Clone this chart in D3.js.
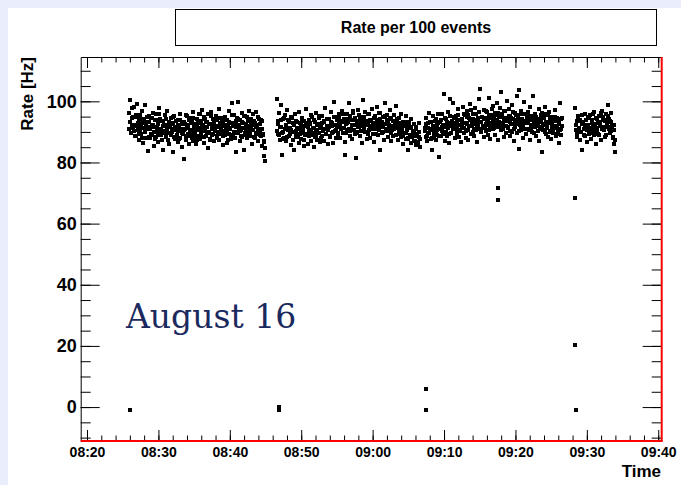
<!DOCTYPE html>
<html>
<head>
<meta charset="utf-8">
<script src="https://cdn.jsdelivr.net/npm/d3@7"></script>
<style>
body { margin: 0; background: #eaedfb; }
svg text { font-family: "Liberation Sans", Arial, sans-serif; }
</style>
</head>
<body>
<div id="chart"></div>
<script>
// run segments (start / end of data taking), points are spread evenly in time inside a run
var segStart = ["08:25:53", "08:46:36", "09:07:20", "09:28:21"];
var segEnd = ["08:44:56", "09:06:38", "09:26:32", "09:33:57"];

var seg1Rates = [96.2, 100.4, 93.1, 89.5, 97.8, 94.6, 91.2, 98.3, 95.0, 92.4,
  88.7, 94.9, 99.1, 90.6, 93.8, 87.2, 95.6, 91.9, 89.3, 96.7,
  92.8, 86.4, 94.1, 90.2, 98.9, 88.1, 93.3, 91.5, 83.6, 95.2,
  90.8, 87.9, 94.4, 92.1, 89.0, 96.3, 85.5, 91.7, 93.9, 88.4,
  95.8, 90.1, 92.6, 86.8, 97.9, 89.6, 94.2, 91.0, 87.5, 93.5,
  84.1, 92.3, 90.4, 95.4, 88.2, 91.4, 96.9, 89.8, 93.0, 86.1,
  91.8, 94.7, 88.9, 90.0, 83.3, 92.9, 95.1, 87.6, 90.7, 93.6,
  89.1, 86.7, 94.0, 91.3, 88.0, 96.0, 90.3, 85.2, 92.5, 89.4,
  81.3, 93.2, 90.9, 87.3, 95.5, 91.6, 88.6, 92.2, 86.0, 94.5,
  90.5, 89.2, 93.4, 87.0, 96.5, 91.1, 88.3, 92.7, 85.9, 94.3,
  91.9, 88.8, 95.7, 90.6, 87.8, 93.7, 89.9, 97.2, 92.0, 86.5,
  94.8, 90.2, 88.5, 93.1, 91.5, 84.7, 95.9, 89.7, 92.6, 87.4,
  96.4, 91.2, 89.0, 94.1, 86.9, 92.4, 90.8, 95.3, 88.1, 93.9,
  90.0, 87.2, 97.5, 91.7, 89.5, 94.6, 92.8, 85.8, 93.4, 90.4,
  88.9, 95.0, 91.4, 86.3, 94.0, 92.1, 89.3, 96.8, 90.9, 87.7,
  99.4, 93.0, 88.2, 91.8, 95.6, 89.6, 92.5, 83.4, 94.4, 90.1,
  99.8, 91.0, 87.1, 93.8, 90.7, 96.1, 88.4, 92.9, 84.0, 95.2,
  91.3, 89.1, 94.9, 87.9, 92.0, 97.0, 90.3, 88.7, 93.3, 91.6,
  86.2, 95.8, 90.5, 93.5, 88.0, 92.3, 96.6, 89.4, 91.1, 87.0,
  94.2, 90.0, 92.7, 88.8, 85.4, 93.6, 89.2, 86.6, 82.1, 80.6];
var seg1RatesB = [91.0, 93.4, 89.6, 92.2, 94.8, 90.3, 88.7, 95.5, 91.8, 93.0,
  89.2, 92.6, 90.5, 94.1, 87.9, 91.3, 93.7, 89.9, 92.0, 95.0,
  90.8, 88.4, 93.2, 91.6, 89.4, 94.5, 92.4, 90.1, 87.6, 93.9,
  91.2, 89.0, 92.8, 95.7, 90.6, 88.9, 93.5, 91.9, 89.7, 92.3,
  94.3, 90.2, 87.3, 91.5, 93.1, 89.5, 92.7, 90.9, 94.9, 88.2,
  91.7, 93.6, 89.1, 92.1, 90.4, 87.8, 94.0, 91.1, 89.8, 93.3,
  90.7, 92.5, 88.6, 95.2, 91.4, 89.3, 93.8, 90.0, 92.9, 88.0,
  94.6, 91.8, 89.6, 92.4, 90.5, 87.5, 93.0, 91.2, 95.9, 89.0,
  92.2, 90.8, 88.3, 94.2, 91.6, 89.9, 93.4, 90.1, 92.6, 87.7,
  95.3, 91.0, 89.4, 93.7, 90.3, 92.0, 88.8, 94.4, 91.5, 89.2,
  92.8, 90.6, 93.9, 88.5, 91.9, 94.7, 89.7, 92.3, 90.2, 87.4,
  93.2, 91.3, 89.1, 95.6, 92.5, 90.0, 88.1, 93.6, 91.7, 89.5,
  94.1, 92.1, 90.4, 88.7, 93.1, 91.4, 95.1, 89.8, 92.7, 90.9,
  87.9, 93.5, 91.1, 89.3, 94.3, 92.9, 90.7, 88.4, 93.0, 91.6,
  89.6, 92.4, 94.8, 90.3, 88.9, 93.8, 91.0, 89.0, 86.9, 84.8];

var seg2Rates = [100.9, 93.5, 89.2, 96.1, 87.4, 98.7, 91.6, 82.4, 94.3, 90.0,
  88.1, 95.4, 92.2, 86.9, 97.3, 90.7, 93.8, 88.6, 91.4, 85.7,
  94.9, 89.9, 92.8, 87.5, 84.0, 95.9, 90.3, 88.3, 93.2, 91.0,
  86.4, 96.6, 89.4, 92.4, 87.8, 94.5, 90.9, 85.3, 93.6, 88.9,
  91.8, 97.4, 89.0, 86.2, 94.0, 90.5, 92.9, 87.1, 95.5, 89.7,
  91.2, 85.0, 93.9, 88.4, 96.2, 90.1, 87.3, 92.6, 89.5, 94.7,
  86.7, 91.5, 95.1, 88.8, 90.4, 93.4, 87.0, 97.8, 89.3, 92.0,
  90.8, 85.9, 94.2, 91.7, 88.2, 96.4, 89.8, 93.0, 86.5, 92.3,
  99.8, 90.2, 87.9, 94.8, 91.9, 89.1, 95.7, 92.7, 88.0, 93.7,
  91.3, 97.0, 89.6, 94.1, 86.8, 82.4, 92.5, 96.0, 90.6, 93.3,
  99.5, 88.7, 95.2, 91.1, 93.9, 87.6, 96.8, 92.1, 89.4, 94.6,
  81.6, 93.1, 90.0, 97.1, 91.6, 88.5, 95.0, 92.8, 86.3, 94.4,
  100.3, 91.4, 89.9, 96.5, 93.5, 87.7, 92.2, 95.8, 90.5, 88.1,
  94.0, 91.8, 97.6, 89.2, 93.0, 86.6, 95.3, 92.4, 90.9, 98.2,
  88.9, 93.8, 91.0, 96.3, 84.0, 92.9, 89.7, 94.9, 91.5, 87.4,
  99.5, 92.6, 90.2, 95.6, 88.3, 93.2, 91.3, 97.3, 86.9, 94.2,
  90.7, 92.0, 88.6, 95.4, 91.9, 89.0, 98.4, 93.6, 87.2, 92.7,
  94.5, 90.1, 88.2, 96.0, 91.2, 86.1, 93.4, 89.5, 92.3, 87.8,
  95.1, 90.6, 88.0, 84.1, 93.1, 91.6, 86.4, 94.3, 89.1, 90.3,
  87.0, 92.5, 88.8, 85.6, 91.0, 89.4, 86.8, 93.0, 88.4, 85.2];
var seg2RatesB = [90.2, 92.7, 88.9, 91.5, 93.9, 89.6, 87.8, 94.4, 90.8, 92.1,
  88.4, 91.1, 93.3, 89.2, 90.6, 94.7, 87.5, 92.4, 90.0, 89.1,
  93.6, 91.3, 88.2, 90.9, 92.8, 89.8, 94.1, 90.4, 87.2, 91.8,
  93.0, 89.4, 91.6, 88.6, 92.5, 90.1, 94.9, 89.0, 91.2, 93.4,
  88.8, 90.7, 92.2, 89.7, 95.2, 91.4, 88.0, 92.9, 90.3, 93.7,
  91.0, 89.3, 94.2, 90.6, 92.0, 88.5, 93.1, 91.9, 89.9, 95.0,
  92.3, 90.5, 93.8, 91.7, 89.5, 94.6, 92.6, 90.8, 93.2, 95.7,
  91.3, 93.5, 89.8, 92.9, 94.3, 91.1, 90.2, 93.9, 92.1, 96.1,
  90.7, 94.0, 92.4, 89.6, 93.6, 91.5, 95.4, 92.8, 90.4, 93.3,
  91.9, 94.8, 90.0, 92.2, 93.0, 89.4, 95.9, 91.7, 93.7, 90.9,
  92.5, 94.5, 91.2, 89.2, 93.4, 92.0, 96.3, 90.6, 94.1, 91.6,
  93.1, 89.9, 92.7, 95.1, 91.0, 93.8, 90.3, 92.3, 94.4, 89.7,
  91.8, 93.5, 90.8, 92.6, 88.9, 94.2, 91.4, 90.1, 93.0, 89.3,
  92.1, 90.5, 88.6, 91.9, 93.2, 89.8, 90.9, 87.7, 92.4, 89.0,
  91.2, 88.3, 90.4, 89.5, 87.1, 91.6, 88.7, 86.5, 89.9, 87.6];

var seg3Rates = [91.4, 88.2, 94.6, 86.9, 92.8, 89.7, 96.3, 90.5, 87.6, 93.1,
  84.0, 91.9, 95.2, 88.8, 90.2, 93.7, 87.3, 92.4, 89.1, 96.0,
  90.8, 81.8, 93.4, 88.5, 91.6, 95.7, 89.4, 102.3, 92.1, 87.0,
  94.3, 90.0, 88.7, 96.6, 91.2, 86.4, 100.8, 93.0, 89.8, 92.6,
  99.5, 90.9, 94.8, 87.9, 92.3, 95.3, 89.2, 91.7, 97.4, 88.3,
  93.8, 90.4, 86.6, 94.1, 92.0, 98.1, 89.6, 91.3, 95.6, 88.0,
  92.9, 96.8, 90.7, 87.4, 94.4, 91.8, 99.0, 89.3, 93.5, 90.1,
  95.9, 88.6, 92.5, 97.7, 90.6, 86.8, 94.0, 92.2, 100.6, 91.0,
  104.1, 93.3, 89.9, 95.0, 91.5, 97.2, 88.4, 94.7, 92.7, 90.3,
  96.5, 89.0, 93.9, 101.2, 91.1, 87.7, 95.4, 92.4, 98.6, 90.8,
  94.2, 88.9, 96.1, 92.0, 99.3, 91.6, 87.2, 94.9, 93.2, 97.9,
  103.0, 90.5, 95.8, 92.8, 88.2, 96.9, 91.9, 94.5, 89.5, 100.1,
  93.6, 91.3, 97.5, 88.7, 95.1, 92.6, 90.0, 98.8, 94.1, 86.9,
  96.3, 91.7, 93.0, 101.9, 89.8, 95.5, 84.4, 103.8, 92.3, 90.6,
  97.0, 94.3, 88.1, 92.9, 99.7, 91.0, 95.7, 89.4, 93.8, 96.6,
  90.9, 94.6, 87.5, 98.3, 92.1, 95.2, 89.9, 101.6, 93.4, 91.5,
  96.0, 88.8, 94.0, 92.5, 90.2, 97.6, 87.1, 93.7, 95.4, 91.2,
  83.5, 94.8, 90.7, 92.7, 98.0, 89.2, 95.9, 91.8, 93.1, 88.4,
  96.4, 90.4, 94.2, 87.8, 92.2, 95.0, 89.7, 93.5, 91.4, 97.3,
  88.6, 92.0, 94.7, 90.1, 86.5, 93.3, 99.4, 91.1, 89.0, 94.4];
var seg3RatesB = [90.4, 92.6, 88.8, 91.3, 89.5, 93.4, 90.9, 87.9, 92.0, 89.9,
  91.7, 94.1, 89.2, 90.6, 92.9, 88.5, 91.1, 93.8, 90.2, 92.3,
  89.7, 94.6, 91.5, 90.0, 93.1, 92.4, 89.4, 95.2, 91.9, 93.6,
  90.8, 92.8, 94.4, 91.0, 93.3, 89.6, 95.6, 92.1, 90.5, 94.0,
  92.7, 91.4, 96.0, 93.0, 90.3, 94.8, 92.5, 95.4, 91.8, 93.9,
  97.1, 92.2, 94.3, 90.9, 93.5, 95.8, 91.6, 94.6, 92.9, 96.4,
  93.2, 90.7, 95.0, 92.0, 94.2, 91.3, 96.7, 93.7, 92.4, 95.3,
  90.6, 94.5, 92.8, 97.5, 93.4, 91.2, 95.6, 92.6, 94.0, 96.2,
  91.9, 93.1, 95.9, 92.3, 94.9, 90.8, 93.6, 96.8, 92.0, 94.4,
  91.5, 95.1, 93.3, 90.4, 94.7, 92.7, 96.5, 91.1, 93.8, 95.5,
  92.5, 94.1, 90.2, 93.0, 95.7, 91.7, 94.3, 92.1, 96.0, 93.5,
  91.0, 94.8, 92.9, 90.6, 95.2, 93.9, 91.4, 94.5, 92.2, 89.8,
  93.7, 95.0, 91.8, 92.6, 94.2, 90.9, 93.2, 96.3, 91.6, 92.4,
  94.6, 90.1, 93.4, 91.2, 95.4, 92.8, 89.9, 94.0, 91.5, 93.1,
  90.5, 92.0, 94.9, 91.3, 89.4, 93.6, 92.5, 90.7, 94.1, 91.9];

var seg4Rates = [97.8, 90.5, 93.6, 88.2, 95.1, 91.4, 87.3, 94.0, 89.9, 92.7,
  84.0, 93.2, 90.8, 96.0, 88.6, 92.1, 86.7, 94.5, 91.0, 89.4,
  95.6, 90.2, 87.8, 93.9, 92.4, 88.9, 96.5, 91.7, 86.1, 94.2,
  90.0, 93.0, 95.3, 89.1, 92.6, 87.5, 96.8, 91.2, 94.8, 90.6,
  93.5, 88.4, 95.9, 92.0, 98.9, 91.6, 94.3, 89.7, 93.1, 96.2,
  90.9, 88.3, 92.4, 86.0, 83.4];
var seg4RatesB = [92.4, 89.6, 94.2, 91.0, 93.5, 90.1, 95.4, 92.8, 88.9, 91.7,
  93.9, 90.6, 92.1, 94.8, 89.8, 91.4, 93.0, 95.9, 90.3, 92.6,
  94.5, 91.2, 89.3, 93.3, 92.0, 96.1, 90.8, 93.8, 91.6, 94.0,
  89.0, 92.9, 95.2, 91.1, 93.6, 90.4, 92.2, 88.1, 90.7, 87.4];

// odd points at run starts
var outlierTimes = ["08:26:01", "08:46:53", "08:46:55", "09:07:29", "09:07:31",
  "09:17:34", "09:17:36", "09:28:21", "09:28:23", "09:28:25"];
var outlierRates = [-1.1, 0.0, -0.9, 5.8, -1.0, 71.5, 67.6, 68.3, 20.2, -1.0];

var svgWidth = 681;
var svgHeight = 485;
var margin = { top: 57, right: 19.3, bottom: 44, left: 80.7 };
var chartWidth = svgWidth - margin.left - margin.right;
var chartHeight = svgHeight - margin.top - margin.bottom;

function parseT(s) {
  var p = s.split(":");
  return new Date(2008, 7, 16, +p[0], +p[1], +p[2]);
}

// build the point table, second list sits between the first one's events
var points = [];
[[seg1Rates, seg1RatesB], [seg2Rates, seg2RatesB], [seg3Rates, seg3RatesB], [seg4Rates, seg4RatesB]]
  .forEach(function(pair, k) {
    var t0 = parseT(segStart[k]).getTime();
    var t1 = parseT(segEnd[k]).getTime();
    pair[0].forEach(function(r, i) {
      points.push({ time: new Date(t0 + (t1 - t0) * i / (pair[0].length - 1)), rate: r });
    });
    pair[1].forEach(function(r, i) {
      points.push({ time: new Date(t0 + (t1 - t0) * (i + 0.5) / pair[1].length), rate: r });
    });
  });
outlierTimes.forEach(function(s, i) {
  points.push({ time: parseT(s), rate: outlierRates[i] });
});

var svg = d3.select("#chart")
  .append("svg")
  .attr("width", svgWidth)
  .attr("height", svgHeight);

// white canvas on the slide background
svg.append("rect")
  .attr("x", 8).attr("y", 8)
  .attr("width", svgWidth).attr("height", svgHeight)
  .attr("fill", "#fff");

var chartGroup = svg.append("g")
  .attr("transform", `translate(${margin.left}, ${margin.top})`);

var xScale = d3.scaleTime()
  .domain([parseT("08:19:07"), parseT("09:40:29")])
  .range([0, chartWidth]);
var yScale = d3.scaleLinear()
  .domain([-11.1, 114.5])
  .range([chartHeight, 0]);

// points
chartGroup.selectAll("rect.pt")
  .data(points)
  .enter()
  .append("rect")
  .attr("class", "pt")
  .attr("x", d => xScale(d.time) - 2)
  .attr("y", d => yScale(d.rate) - 2)
  .attr("width", 4)
  .attr("height", 4)
  .attr("shape-rendering", "crispEdges")
  .attr("fill", "#000");

function noDomain(g) { g.select(".domain").remove(); }

var majorY = [0, 20, 40, 60, 80, 100];
var minorY = d3.range(-10, 115, 5);

// left axis
chartGroup.append("g")
  .call(d3.axisLeft(yScale).tickValues(minorY).tickSize(-10).tickFormat(""))
  .call(noDomain);
var leftAxis = chartGroup.append("g")
  .call(d3.axisLeft(yScale).tickValues(majorY).tickSize(-19).tickPadding(4).tickSizeOuter(0));
leftAxis.select(".domain").attr("stroke", "#000");
leftAxis.selectAll("text")
  .attr("font-size", "18px")
  .attr("font-weight", "bold")
  .attr("fill", "#000");

// right axis
chartGroup.append("g")
  .attr("transform", `translate(${chartWidth}, 0)`)
  .call(d3.axisRight(yScale).tickValues(minorY).tickSize(-10).tickFormat(""))
  .call(noDomain);
chartGroup.append("g")
  .attr("transform", `translate(${chartWidth}, 0)`)
  .call(d3.axisRight(yScale).tickValues(majorY).tickSize(-19).tickFormat(""))
  .call(noDomain);

// top axis
chartGroup.append("g")
  .call(d3.axisTop(xScale).ticks(d3.timeMinute.every(2)).tickSize(-5.5).tickFormat(""))
  .call(noDomain);
chartGroup.append("g")
  .call(d3.axisTop(xScale).ticks(d3.timeMinute.every(10)).tickSize(-11).tickFormat("").tickSizeOuter(0))
  .select(".domain").attr("stroke", "#000");

// bottom axis
chartGroup.append("g")
  .attr("transform", `translate(0, ${chartHeight})`)
  .call(d3.axisBottom(xScale).ticks(d3.timeMinute.every(2)).tickSize(-5.5).tickFormat(""))
  .call(noDomain);
var bottomAxis = chartGroup.append("g")
  .attr("transform", `translate(0, ${chartHeight})`)
  .call(d3.axisBottom(xScale).ticks(d3.timeMinute.every(10)).tickSize(-11).tickPadding(6)
    .tickSizeOuter(0).tickFormat(d3.timeFormat("%H:%M")));
bottomAxis.selectAll("text")
  .attr("font-size", "14px")
  .attr("font-weight", "bold")
  .attr("fill", "#000");
bottomAxis.select(".domain").remove();

// red bottom and right frame lines
chartGroup.append("line")
  .attr("x1", 0).attr("x2", chartWidth + 1)
  .attr("y1", chartHeight).attr("y2", chartHeight)
  .attr("stroke", "#f00").attr("stroke-width", 2);
chartGroup.append("line")
  .attr("x1", chartWidth).attr("x2", chartWidth)
  .attr("y1", 0).attr("y2", chartHeight)
  .attr("stroke", "#f00").attr("stroke-width", 2);

// axis titles
svg.append("text")
  .attr("transform", "translate(33, 57) rotate(-90)")
  .attr("text-anchor", "end")
  .attr("font-size", "17px")
  .attr("font-weight", "bold")
  .text("Rate [Hz]");
svg.append("text")
  .attr("x", 661).attr("y", 477)
  .attr("text-anchor", "end")
  .attr("font-size", "17px")
  .attr("font-weight", "bold")
  .text("Time");

// title box
svg.append("rect")
  .attr("x", 175.5).attr("y", 9.5)
  .attr("width", 481).attr("height", 36)
  .attr("fill", "#fff")
  .attr("stroke", "#000");
svg.append("text")
  .attr("x", 416).attr("y", 33)
  .attr("text-anchor", "middle")
  .attr("font-size", "16px")
  .attr("font-weight", "bold")
  .text("Rate per 100 events");

// annotation
svg.append("text")
  .attr("x", 126).attr("y", 328)
  .style("font-family", "'DejaVu Serif', serif")
  .attr("font-size", "33px")
  .attr("fill", "#1b2a5e")
  .text("August 16");
</script>
</body>
</html>
